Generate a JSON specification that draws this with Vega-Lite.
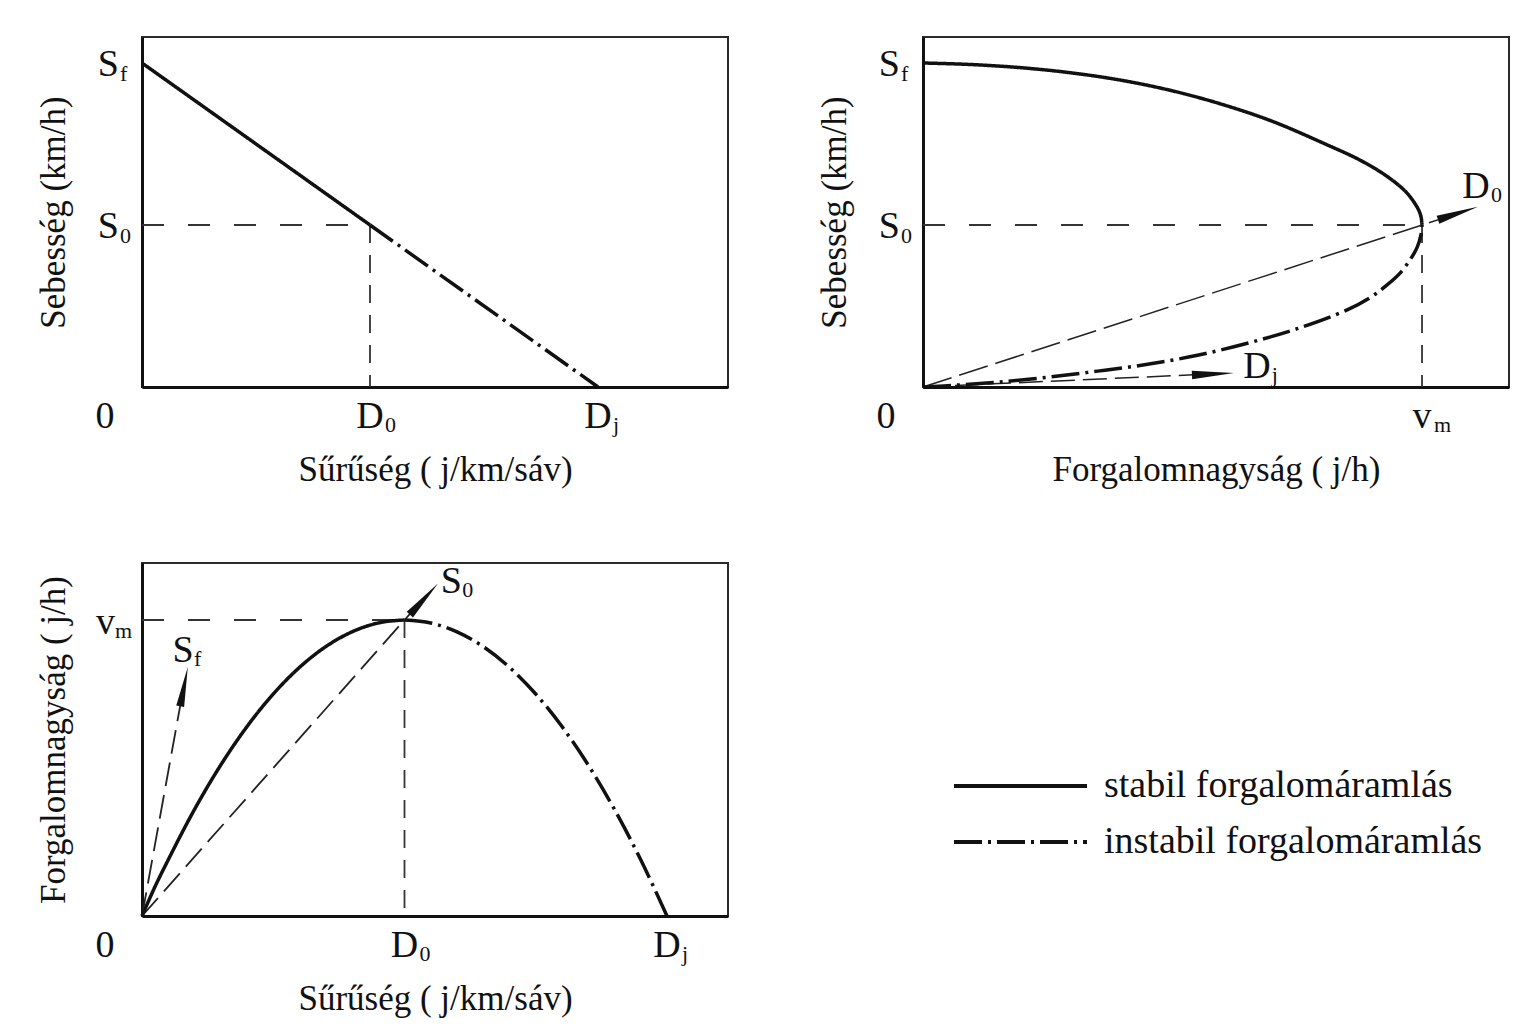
{
 "$schema": "https://vega.github.io/schema/vega-lite/v6.json",
 "background": "white",
 "padding": {"left": 35, "top": 36, "right": 5, "bottom": 5},
 "bounds": "flush",
 "columns": 2,
 "spacing": {"row": 176, "column": 195},
 "config": {
  "view": {"stroke": "#2a2a2a", "strokeWidth": 2},
  "axis": {"labels": false, "ticks": false, "grid": false, "domain": true, "domainColor": "#111", "domainWidth": 3, "titleFont": "Liberation Serif", "titleFontSize": 35, "titleFontWeight": "normal", "titleColor": "#111"},
  "text": {"font": "Liberation Serif", "color": "#111"}
 },
 "concat": [
  {
   "width": 586, "height": 350,
   "encoding": {
    "x": {"field": "x", "type": "quantitative", "scale": {"domain": [0, 1.2851], "nice": false, "zero": false}, "axis": {"title": "Sűrűség ( j/km/sáv)", "titlePadding": 65}},
    "y": {"field": "y", "type": "quantitative", "scale": {"domain": [0, 1.0802], "nice": false, "zero": false}, "axis": {"title": "Sebesség (km/h)", "titlePadding": 71}}
   },
   "layer": [
    {"data": {"values": [{"x": 0, "y": 0.5, "x2": 0.5, "y2": 0.5}]}, "mark": {"type": "rule", "strokeDash": [22, 24], "strokeWidth": 1.8, "color": "#333"}, "encoding": {"x2": {"field": "x2"}, "y2": {"field": "y2"}}},
    {"data": {"values": [{"x": 0.5, "y": 0.5, "x2": 0.5, "y2": 0}]}, "mark": {"type": "rule", "strokeDash": [18, 12], "strokeWidth": 1.8, "color": "#333"}, "encoding": {"x2": {"field": "x2"}, "y2": {"field": "y2"}}},
    {"data": {"values": [
      {"x": 0, "y": 1, "r": "stabil forgalomáramlás"},
      {"x": 0.5, "y": 0.5, "r": "stabil forgalomáramlás"},
      {"x": 0.5, "y": 0.5, "r": "instabil forgalomáramlás"},
      {"x": 1, "y": 0, "r": "instabil forgalomáramlás"}]},
     "mark": {"type": "line", "color": "#111", "strokeWidth": 3.5},
     "encoding": {"strokeDash": {"field": "r", "type": "nominal", "scale": {"domain": ["stabil forgalomáramlás", "instabil forgalomáramlás"], "range": [[1, 0], [28, 6, 3, 6]]}, "legend": {"orient": "none", "legendX": 810, "legendY": 731, "title": null, "symbolType": "stroke", "symbolSize": 17689, "symbolStrokeWidth": 3.8, "symbolStrokeColor": "#111", "labelFont": "Liberation Serif", "labelFontSize": 38, "labelColor": "#111", "labelOffset": 15, "labelLimit": 700, "clipHeight": 36, "rowPadding": 18, "padding": 0}}}},
    {"data": {"values": [{"x": 0, "y": 1, "t": "S", "s": "f"}, {"x": 0, "y": 0.5, "t": "S", "s": "0"}]},
     "layer": [
      {"mark": {"type": "text", "align": "right", "baseline": "alphabetic", "dx": -23, "dy": 13, "fontSize": 38}, "encoding": {"text": {"field": "t", "type": "nominal"}}},
      {"mark": {"type": "text", "align": "left", "baseline": "alphabetic", "dx": -22, "dy": 18, "fontSize": 22}, "encoding": {"text": {"field": "s", "type": "nominal"}}}
     ]},
    {"data": {"values": [{"x": 0.5, "y": 0, "t": "D", "s": "0"}, {"x": 1, "y": 0, "t": "D", "s": "j"}]},
     "layer": [
      {"mark": {"type": "text", "align": "center", "baseline": "alphabetic", "dy": 41, "fontSize": 38}, "encoding": {"text": {"field": "t", "type": "nominal"}}},
      {"mark": {"type": "text", "align": "left", "baseline": "alphabetic", "dx": 15, "dy": 45, "fontSize": 22}, "encoding": {"text": {"field": "s", "type": "nominal"}}}
     ]},
    {"data": {"values": [{"x": 0, "y": 0, "t": "0"}]},
     "mark": {"type": "text", "align": "center", "baseline": "alphabetic", "dx": -37, "dy": 41, "fontSize": 38}, "encoding": {"text": {"field": "t", "type": "nominal"}}}
   ]
  },
  {
   "width": 586, "height": 350,
   "encoding": {
    "x": {"field": "x", "type": "quantitative", "scale": {"domain": [0, 1.1743], "nice": false, "zero": false}, "axis": {"title": "Forgalomnagyság ( j/h)", "titlePadding": 65}},
    "y": {"field": "y", "type": "quantitative", "scale": {"domain": [0, 1.0802], "nice": false, "zero": false}, "axis": {"title": "Sebesség (km/h)", "titlePadding": 71}}
   },
   "layer": [
    {"data": {"values": [{"x": 0, "y": 0.5, "x2": 1, "y2": 0.5}]}, "mark": {"type": "rule", "strokeDash": [22, 24], "strokeWidth": 1.8, "color": "#333"}, "encoding": {"x2": {"field": "x2"}, "y2": {"field": "y2"}}},
    {"data": {"values": [{"x": 1, "y": 0.5, "x2": 1, "y2": 0}]}, "mark": {"type": "rule", "strokeDash": [18, 12], "strokeWidth": 1.8, "color": "#333"}, "encoding": {"x2": {"field": "x2"}, "y2": {"field": "y2"}}},
    {"data": {"values": [{"x": 0, "y": 0, "x2": 1.05, "y2": 0.525}]}, "mark": {"type": "rule", "strokeDash": [30, 8], "strokeWidth": 1.5, "color": "#222"}, "encoding": {"x2": {"field": "x2"}, "y2": {"field": "y2"}}},
    {"data": {"values": [{"x": 0, "y": 0, "x2": 0.56, "y2": 0.039}]}, "mark": {"type": "rule", "strokeDash": [24, 8], "strokeWidth": 1.5, "color": "#222"}, "encoding": {"x2": {"field": "x2"}, "y2": {"field": "y2"}}},
    {"data": {"values": [
      {"x": 0, "y": 1.0, "r": "stabil forgalomáramlás"},
      {"x": 0.1, "y": 0.995, "r": "stabil forgalomáramlás"},
      {"x": 0.2, "y": 0.985, "r": "stabil forgalomáramlás"},
      {"x": 0.3, "y": 0.969, "r": "stabil forgalomáramlás"},
      {"x": 0.4, "y": 0.946, "r": "stabil forgalomáramlás"},
      {"x": 0.5, "y": 0.914, "r": "stabil forgalomáramlás"},
      {"x": 0.6, "y": 0.872, "r": "stabil forgalomáramlás"},
      {"x": 0.7, "y": 0.82, "r": "stabil forgalomáramlás"},
      {"x": 0.806, "y": 0.75, "r": "stabil forgalomáramlás"},
      {"x": 0.876, "y": 0.7, "r": "stabil forgalomáramlás"},
      {"x": 0.93, "y": 0.65, "r": "stabil forgalomáramlás"},
      {"x": 0.969, "y": 0.6, "r": "stabil forgalomáramlás"},
      {"x": 0.992, "y": 0.55, "r": "stabil forgalomáramlás"},
      {"x": 0.998, "y": 0.525, "r": "stabil forgalomáramlás"},
      {"x": 1.0, "y": 0.5, "r": "stabil forgalomáramlás"},
      {"x": 0, "y": 0, "r": "instabil forgalomáramlás"},
      {"x": 0.07, "y": 0.006, "r": "instabil forgalomáramlás"},
      {"x": 0.15, "y": 0.015, "r": "instabil forgalomáramlás"},
      {"x": 0.25, "y": 0.03, "r": "instabil forgalomáramlás"},
      {"x": 0.35, "y": 0.049, "r": "instabil forgalomáramlás"},
      {"x": 0.45, "y": 0.07, "r": "instabil forgalomáramlás"},
      {"x": 0.55, "y": 0.098, "r": "instabil forgalomáramlás"},
      {"x": 0.65, "y": 0.135, "r": "instabil forgalomáramlás"},
      {"x": 0.75, "y": 0.18, "r": "instabil forgalomáramlás"},
      {"x": 0.85, "y": 0.238, "r": "instabil forgalomáramlás"},
      {"x": 0.9, "y": 0.28, "r": "instabil forgalomáramlás"},
      {"x": 0.93, "y": 0.315, "r": "instabil forgalomáramlás"},
      {"x": 0.955, "y": 0.35, "r": "instabil forgalomáramlás"},
      {"x": 0.975, "y": 0.39, "r": "instabil forgalomáramlás"},
      {"x": 0.99, "y": 0.43, "r": "instabil forgalomáramlás"},
      {"x": 0.998, "y": 0.47, "r": "instabil forgalomáramlás"},
      {"x": 1.0, "y": 0.5, "r": "instabil forgalomáramlás"}]},
     "mark": {"type": "line", "color": "#111", "strokeWidth": 3.5, "interpolate": "catmull-rom"},
     "encoding": {"strokeDash": {"field": "r", "type": "nominal", "scale": {"domain": ["stabil forgalomáramlás", "instabil forgalomáramlás"], "range": [[1, 0], [28, 6, 3, 6]]}, "legend": {"orient": "none", "legendX": 810, "legendY": 731, "title": null, "symbolType": "stroke", "symbolSize": 17689, "symbolStrokeWidth": 3.8, "symbolStrokeColor": "#111", "labelFont": "Liberation Serif", "labelFontSize": 38, "labelColor": "#111", "labelOffset": 15, "labelLimit": 700, "clipHeight": 36, "rowPadding": 18, "padding": 0}}}},
    {"data": {"values": [{"x": 1.072, "y": 0.536}]}, "mark": {"type": "point", "shape": "M1,0L-1,-0.2L-1,0.2Z", "size": 1764, "angle": -18, "filled": true, "color": "#111", "opacity": 1, "strokeWidth": 0}},
    {"data": {"values": [{"x": 0.581, "y": 0.04}]}, "mark": {"type": "point", "shape": "M1,0L-1,-0.2L-1,0.2Z", "size": 1764, "angle": -2.6, "filled": true, "color": "#111", "opacity": 1, "strokeWidth": 0}},
    {"data": {"values": [{"x": 0, "y": 1, "t": "S", "s": "f"}, {"x": 0, "y": 0.5, "t": "S", "s": "0"}]},
     "layer": [
      {"mark": {"type": "text", "align": "right", "baseline": "alphabetic", "dx": -23, "dy": 13, "fontSize": 38}, "encoding": {"text": {"field": "t", "type": "nominal"}}},
      {"mark": {"type": "text", "align": "left", "baseline": "alphabetic", "dx": -22, "dy": 18, "fontSize": 22}, "encoding": {"text": {"field": "s", "type": "nominal"}}}
     ]},
    {"data": {"values": [{"x": 1, "y": 0, "t": "v", "s": "m"}]},
     "layer": [
      {"mark": {"type": "text", "align": "center", "baseline": "alphabetic", "dy": 41, "fontSize": 38}, "encoding": {"text": {"field": "t", "type": "nominal"}}},
      {"mark": {"type": "text", "align": "left", "baseline": "alphabetic", "dx": 12, "dy": 45, "fontSize": 22}, "encoding": {"text": {"field": "s", "type": "nominal"}}}
     ]},
    {"data": {"values": [{"x": 1.108, "y": 0.583, "t": "D", "s": "0"}, {"x": 0.669, "y": 0.028, "t": "D", "s": "j"}]},
     "layer": [
      {"mark": {"type": "text", "align": "center", "baseline": "alphabetic", "fontSize": 38}, "encoding": {"text": {"field": "t", "type": "nominal"}}},
      {"mark": {"type": "text", "align": "left", "baseline": "alphabetic", "dx": 15, "dy": 4, "fontSize": 22}, "encoding": {"text": {"field": "s", "type": "nominal"}}}
     ]},
    {"data": {"values": [{"x": 0, "y": 0, "t": "0"}]},
     "mark": {"type": "text", "align": "center", "baseline": "alphabetic", "dx": -37, "dy": 41, "fontSize": 38}, "encoding": {"text": {"field": "t", "type": "nominal"}}}
   ]
  },
  {
   "width": 586, "height": 353,
   "encoding": {
    "x": {"field": "x", "type": "quantitative", "scale": {"domain": [0, 1.1162], "nice": false, "zero": false}, "axis": {"title": "Sűrűség ( j/km/sáv)", "titlePadding": 65}},
    "y": {"field": "y", "type": "quantitative", "scale": {"domain": [0, 1.1926], "nice": false, "zero": false}, "axis": {"title": "Forgalomnagyság ( j/h)", "titlePadding": 71}}
   },
   "layer": [
    {"data": {"values": [{"x": 0, "y": 1, "x2": 0.5, "y2": 1}]}, "mark": {"type": "rule", "strokeDash": [22, 24], "strokeWidth": 1.8, "color": "#333"}, "encoding": {"x2": {"field": "x2"}, "y2": {"field": "y2"}}},
    {"data": {"values": [{"x": 0.5, "y": 1, "x2": 0.5, "y2": 0}]}, "mark": {"type": "rule", "strokeDash": [18, 12], "strokeWidth": 1.8, "color": "#333"}, "encoding": {"x2": {"field": "x2"}, "y2": {"field": "y2"}}},
    {"data": {"values": [{"x": 0, "y": 0, "x2": 0.076, "y2": 0.742}]}, "mark": {"type": "rule", "strokeDash": [24, 9], "strokeWidth": 1.8, "color": "#222"}, "encoding": {"x2": {"field": "x2"}, "y2": {"field": "y2"}}},
    {"data": {"values": [{"x": 0, "y": 0, "x2": 0.52, "y2": 1.04}]}, "mark": {"type": "rule", "strokeDash": [24, 9], "strokeWidth": 1.8, "color": "#222"}, "encoding": {"x2": {"field": "x2"}, "y2": {"field": "y2"}}},
    {"data": {"values": [
      {"x": 0, "y": 0, "r": "stabil forgalomáramlás"},
      {"x": 0.025, "y": 0.1, "r": "stabil forgalomáramlás"},
      {"x": 0.05, "y": 0.19, "r": "stabil forgalomáramlás"},
      {"x": 0.1, "y": 0.36, "r": "stabil forgalomáramlás"},
      {"x": 0.15, "y": 0.51, "r": "stabil forgalomáramlás"},
      {"x": 0.2, "y": 0.64, "r": "stabil forgalomáramlás"},
      {"x": 0.25, "y": 0.75, "r": "stabil forgalomáramlás"},
      {"x": 0.3, "y": 0.84, "r": "stabil forgalomáramlás"},
      {"x": 0.35, "y": 0.91, "r": "stabil forgalomáramlás"},
      {"x": 0.4, "y": 0.96, "r": "stabil forgalomáramlás"},
      {"x": 0.45, "y": 0.99, "r": "stabil forgalomáramlás"},
      {"x": 0.5, "y": 1.0, "r": "stabil forgalomáramlás"},
      {"x": 0.5, "y": 1.0, "r": "instabil forgalomáramlás"},
      {"x": 0.55, "y": 0.99, "r": "instabil forgalomáramlás"},
      {"x": 0.6, "y": 0.96, "r": "instabil forgalomáramlás"},
      {"x": 0.65, "y": 0.91, "r": "instabil forgalomáramlás"},
      {"x": 0.7, "y": 0.84, "r": "instabil forgalomáramlás"},
      {"x": 0.75, "y": 0.75, "r": "instabil forgalomáramlás"},
      {"x": 0.8, "y": 0.64, "r": "instabil forgalomáramlás"},
      {"x": 0.85, "y": 0.51, "r": "instabil forgalomáramlás"},
      {"x": 0.9, "y": 0.36, "r": "instabil forgalomáramlás"},
      {"x": 0.95, "y": 0.19, "r": "instabil forgalomáramlás"},
      {"x": 1.0, "y": 0, "r": "instabil forgalomáramlás"}]},
     "mark": {"type": "line", "color": "#111", "strokeWidth": 3.5, "interpolate": "monotone"},
     "encoding": {"strokeDash": {"field": "r", "type": "nominal", "scale": {"domain": ["stabil forgalomáramlás", "instabil forgalomáramlás"], "range": [[1, 0], [28, 6, 3, 6]]}, "legend": {"orient": "none", "legendX": 810, "legendY": 731, "title": null, "symbolType": "stroke", "symbolSize": 17689, "symbolStrokeWidth": 3.8, "symbolStrokeColor": "#111", "labelFont": "Liberation Serif", "labelFontSize": 38, "labelColor": "#111", "labelOffset": 15, "labelLimit": 700, "clipHeight": 36, "rowPadding": 18, "padding": 0}}}},
    {"data": {"values": [{"x": 0.08, "y": 0.775}]}, "mark": {"type": "point", "shape": "M1,0L-1,-0.2L-1,0.2Z", "size": 1600, "angle": -79, "filled": true, "color": "#111", "opacity": 1, "strokeWidth": 0}},
    {"data": {"values": [{"x": 0.537, "y": 1.071}]}, "mark": {"type": "point", "shape": "M1,0L-1,-0.2L-1,0.2Z", "size": 1764, "angle": -48, "filled": true, "color": "#111", "opacity": 1, "strokeWidth": 0}},
    {"data": {"values": [{"x": 0, "y": 1, "t": "v", "s": "m"}]},
     "layer": [
      {"mark": {"type": "text", "align": "right", "baseline": "alphabetic", "dx": -27, "dy": 14, "fontSize": 38}, "encoding": {"text": {"field": "t", "type": "nominal"}}},
      {"mark": {"type": "text", "align": "left", "baseline": "alphabetic", "dx": -27, "dy": 18, "fontSize": 22}, "encoding": {"text": {"field": "s", "type": "nominal"}}}
     ]},
    {"data": {"values": [{"x": 0.5, "y": 0, "t": "D", "s": "0"}, {"x": 1, "y": 0, "t": "D", "s": "j"}]},
     "layer": [
      {"mark": {"type": "text", "align": "center", "baseline": "alphabetic", "dy": 41, "fontSize": 38}, "encoding": {"text": {"field": "t", "type": "nominal"}}},
      {"mark": {"type": "text", "align": "left", "baseline": "alphabetic", "dx": 15, "dy": 45, "fontSize": 22}, "encoding": {"text": {"field": "s", "type": "nominal"}}}
     ]},
    {"data": {"values": [{"x": 0.078, "y": 0.858, "t": "S", "s": "f"}, {"x": 0.589, "y": 1.091, "t": "S", "s": "0"}]},
     "layer": [
      {"mark": {"type": "text", "align": "center", "baseline": "alphabetic", "fontSize": 38}, "encoding": {"text": {"field": "t", "type": "nominal"}}},
      {"mark": {"type": "text", "align": "left", "baseline": "alphabetic", "dx": 11, "dy": 4, "fontSize": 22}, "encoding": {"text": {"field": "s", "type": "nominal"}}}
     ]},
    {"data": {"values": [{"x": 0, "y": 0, "t": "0"}]},
     "mark": {"type": "text", "align": "center", "baseline": "alphabetic", "dx": -37, "dy": 41, "fontSize": 38}, "encoding": {"text": {"field": "t", "type": "nominal"}}}
   ]
  }
 ]
}
